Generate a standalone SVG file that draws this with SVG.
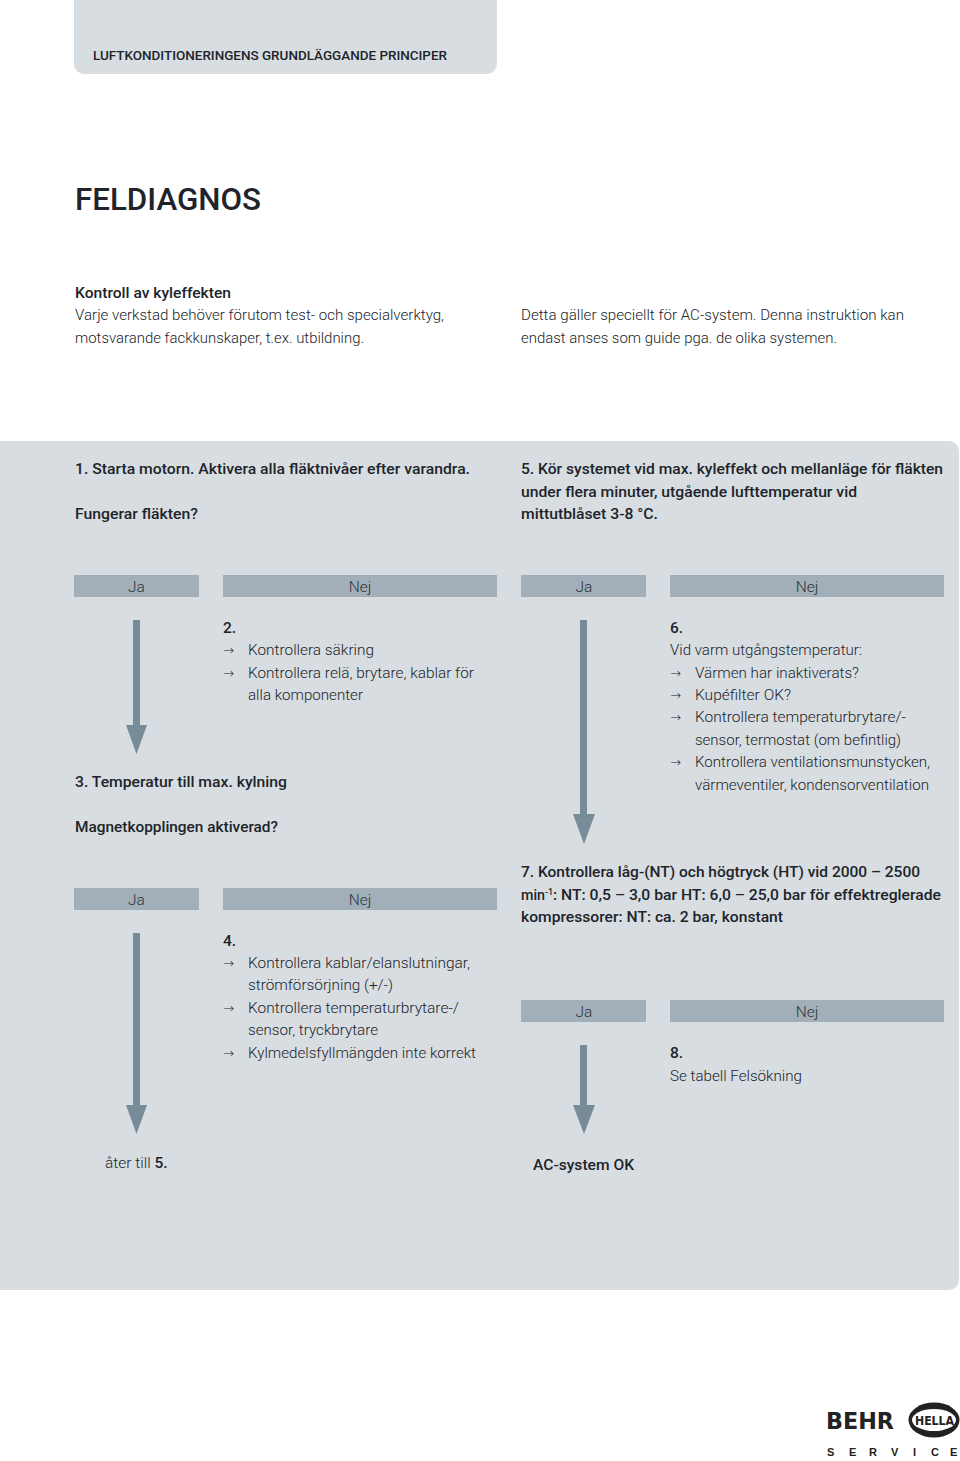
<svg xmlns="http://www.w3.org/2000/svg" width="960" height="1461" viewBox="0 0 960 1461">
<style>
text{font-family:Roboto,"Liberation Sans",sans-serif;fill:#20242a;font-size:15.5px;font-weight:300}
.b{font-weight:500}
.h{font-weight:500;font-size:13.5px}
.t{font-weight:500;font-size:32px}
.l{text-anchor:middle;fill:#2c343b;font-weight:300}
.bar{fill:#a2afb8}
.arr{fill:#778b98}
.ar{font-family:"DejaVu Sans",sans-serif;font-size:13px;font-weight:200}
.panel{fill:#d8dde1}
.lg{font-family:"DejaVu Sans",sans-serif;font-weight:700;fill:#222}
</style>
<rect width="960" height="1461" fill="#fff"/>
<g id="header"><path class="panel" d="M74 0H497V64a10 10 0 0 1-10 10H84a10 10 0 0 1-10-10Z"/>
<text class="h" x="93" y="60" textLength="354" lengthAdjust="spacingAndGlyphs">LUFTKONDITIONERINGENS GRUNDLÄGGANDE PRINCIPER</text></g>
<g id="title"><text class="t" x="75" y="210" textLength="186" lengthAdjust="spacingAndGlyphs">FELDIAGNOS</text></g>
<g id="intro">
<text class="b" x="75" y="298" textLength="156" lengthAdjust="spacingAndGlyphs">Kontroll av kyleffekten</text>
<text x="75" y="320" textLength="369" lengthAdjust="spacingAndGlyphs">Varje verkstad behöver förutom test- och specialverktyg,</text>
<text x="75" y="343" textLength="289" lengthAdjust="spacingAndGlyphs">motsvarande fackkunskaper, t.ex. utbildning.</text>
<text x="521" y="320" textLength="383" lengthAdjust="spacingAndGlyphs">Detta gäller speciellt för AC-system. Denna instruktion kan</text>
<text x="521" y="343" textLength="316" lengthAdjust="spacingAndGlyphs">endast anses som guide pga. de olika systemen.</text>
</g>
<path id="panel" class="panel" d="M0 441H949a10 10 0 0 1 10 10V1280a10 10 0 0 1-10 10H0Z"/>
<g id="connectors">
<path class="arr" d="M133 620H140V725H147L136.500 754L126 725H133Z"/>
<path class="arr" d="M580 620H587V814H595L584 844L573 814H580Z"/>
<path class="arr" d="M133 933H140V1105H147L136.500 1134L126 1105H133Z"/>
<path class="arr" d="M580 1045H587V1105H595L584 1134L573 1105H580Z"/>
</g>
<g id="step1">
<text class="b" x="75" y="474" textLength="395" lengthAdjust="spacingAndGlyphs">1. Starta motorn. Aktivera alla fläktnivåer efter varandra.</text>
<text class="b" x="75" y="519" textLength="123" lengthAdjust="spacingAndGlyphs">Fungerar fläkten?</text>
</g>
<g id="step5">
<text class="b" x="521" y="474" textLength="422" lengthAdjust="spacingAndGlyphs">5. Kör systemet vid max. kyleffekt och mellanläge för fläkten</text>
<text class="b" x="521" y="497" textLength="336" lengthAdjust="spacingAndGlyphs">under flera minuter, utgående lufttemperatur vid</text>
<text class="b" x="521" y="519" textLength="137" lengthAdjust="spacingAndGlyphs">mittutblåset 3-8 °C.</text>
</g>
<g id="ja1"><rect class="bar" x="74" y="575" width="125" height="22"/><text class="l" x="136.500" y="592">Ja</text></g>
<g id="nej1"><rect class="bar" x="223" y="575" width="274" height="22"/><text class="l" x="360" y="592">Nej</text></g>
<g id="ja5"><rect class="bar" x="521" y="575" width="125" height="22"/><text class="l" x="584" y="592">Ja</text></g>
<g id="nej5"><rect class="bar" x="670" y="575" width="274" height="22"/><text class="l" x="807" y="592">Nej</text></g>
<g id="step2">
<text class="b" x="223" y="633">2.</text>
<text class="ar" x="223" y="655">→</text><text x="248" y="655" textLength="126" lengthAdjust="spacingAndGlyphs">Kontrollera säkring</text>
<text class="ar" x="223" y="678">→</text><text x="248" y="678" textLength="226" lengthAdjust="spacingAndGlyphs">Kontrollera relä, brytare, kablar för</text>
<text x="248" y="700" textLength="115" lengthAdjust="spacingAndGlyphs">alla komponenter</text>
</g>
<g id="step3">
<text class="b" x="75" y="787" textLength="212" lengthAdjust="spacingAndGlyphs">3. Temperatur till max. kylning</text>
<text class="b" x="75" y="832" textLength="203" lengthAdjust="spacingAndGlyphs">Magnetkopplingen aktiverad?</text>
</g>
<g id="step6">
<text class="b" x="670" y="633">6.</text>
<text x="670" y="655" textLength="192" lengthAdjust="spacingAndGlyphs">Vid varm utgångstemperatur:</text>
<text class="ar" x="670" y="678">→</text><text x="695" y="678" textLength="164" lengthAdjust="spacingAndGlyphs">Värmen har inaktiverats?</text>
<text class="ar" x="670" y="700">→</text><text x="695" y="700" textLength="96" lengthAdjust="spacingAndGlyphs">Kupéfilter OK?</text>
<text class="ar" x="670" y="722">→</text><text x="695" y="722" textLength="211" lengthAdjust="spacingAndGlyphs">Kontrollera temperaturbrytare/-</text>
<text x="695" y="745" textLength="206" lengthAdjust="spacingAndGlyphs">sensor, termostat (om befintlig)</text>
<text class="ar" x="670" y="767">→</text><text x="695" y="767" textLength="235" lengthAdjust="spacingAndGlyphs">Kontrollera ventilationsmunstycken,</text>
<text x="695" y="790" textLength="234" lengthAdjust="spacingAndGlyphs">värmeventiler, kondensorventilation</text>
</g>
<g id="step7">
<text class="b" x="521" y="877" textLength="399" lengthAdjust="spacingAndGlyphs">7. Kontrollera låg-(NT) och högtryck (HT) vid 2000 – 2500</text>
<text class="b" x="521" y="900" textLength="24" lengthAdjust="spacingAndGlyphs">min</text>
<text class="b" x="545" y="895" style="font-size:9px">-1</text>
<text class="b" x="553" y="900" textLength="388" lengthAdjust="spacingAndGlyphs">: NT: 0,5 – 3,0 bar HT: 6,0 – 25,0 bar för effektreglerade</text>
<text class="b" x="521" y="922" textLength="262" lengthAdjust="spacingAndGlyphs">kompressorer: NT: ca. 2 bar, konstant</text>
</g>
<g id="ja3"><rect class="bar" x="74" y="888" width="125" height="22"/><text class="l" x="136.500" y="905">Ja</text></g>
<g id="nej3"><rect class="bar" x="223" y="888" width="274" height="22"/><text class="l" x="360" y="905">Nej</text></g>
<g id="ja7"><rect class="bar" x="521" y="1000" width="125" height="22"/><text class="l" x="584" y="1017">Ja</text></g>
<g id="nej7"><rect class="bar" x="670" y="1000" width="274" height="22"/><text class="l" x="807" y="1017">Nej</text></g>
<g id="step4">
<text class="b" x="223" y="946">4.</text>
<text class="ar" x="223" y="968">→</text><text x="248" y="968" textLength="222" lengthAdjust="spacingAndGlyphs">Kontrollera kablar/elanslutningar,</text>
<text x="248" y="990" textLength="145" lengthAdjust="spacingAndGlyphs">strömförsörjning (+/-)</text>
<text class="ar" x="223" y="1013">→</text><text x="248" y="1013" textLength="211" lengthAdjust="spacingAndGlyphs">Kontrollera temperaturbrytare-/</text>
<text x="248" y="1035" textLength="130" lengthAdjust="spacingAndGlyphs">sensor, tryckbrytare</text>
<text class="ar" x="223" y="1058">→</text><text x="248" y="1058" textLength="228" lengthAdjust="spacingAndGlyphs">Kylmedelsfyllmängden inte korrekt</text>
</g>
<g id="step8">
<text class="b" x="670" y="1058">8.</text>
<text x="670" y="1081" textLength="132" lengthAdjust="spacingAndGlyphs">Se tabell Felsökning</text>
</g>
<g id="back"><text x="105" y="1168">åter till <tspan class="b">5.</tspan></text></g>
<g id="ok"><text class="b" x="533" y="1170" textLength="101" lengthAdjust="spacingAndGlyphs">AC-system OK</text></g>
<g id="logo">
<text class="lg" x="826" y="1429" style="font-size:23.500px" textLength="68" lengthAdjust="spacingAndGlyphs">BEHR</text>
<ellipse cx="934" cy="1420" rx="25.500" ry="17.500" fill="#222"/>
<ellipse cx="934" cy="1420" rx="22" ry="11" fill="#fff"/>
<text class="lg" x="915" y="1425" style="font-size:13px" textLength="39" lengthAdjust="spacingAndGlyphs">HELLA</text>
<text class="lg" x="827 849 869 891 913 931 950" y="1456" style="font-family:'Liberation Sans',sans-serif;font-size:11px">SERVICE</text>
</g>
</svg>
